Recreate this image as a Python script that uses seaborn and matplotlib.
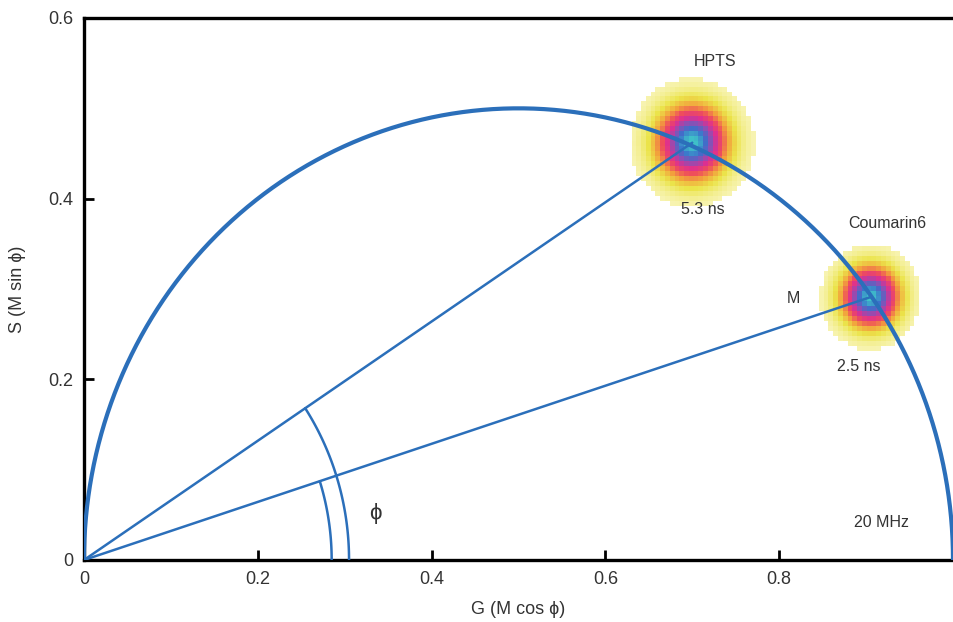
import numpy as np
import pandas as pd
import matplotlib
matplotlib.use("Agg")
import matplotlib.pyplot as plt
from matplotlib.colors import LinearSegmentedColormap
import seaborn as sns

# datos
nombres = ["HPTS", "Coumarin6"]
vidas = ["5.3 ns", "2.5 ns"]
centro_g = [0.700, 0.905]
centro_s = [0.462, 0.291]
dispersion = [0.027, 0.022]
frecuencia = "20 MHz"
radios_arco = [0.305, 0.285]   # arco exterior -> HPTS, interior -> Coumarin6
ticks_x = [0, 0.2, 0.4, 0.6, 0.8]
ticks_y = [0, 0.2, 0.4, 0.6]

azul = "#2b6fba"

sns.set_theme(style="white")
plt.rcParams["font.family"] = ["Liberation Sans", "DejaVu Sans"]

fig = plt.figure(figsize=(9.54, 6.22), dpi=100)
ax = fig.add_axes([84 / 954, 62 / 622, 869 / 954, 542 / 622])

# nubes de fasores (histograma 2D)
cmap = LinearSegmentedColormap.from_list(
    "fasor", ["#f7f3b0", "#ebe44a", "#f2a23c", "#ef4f5a", "#de2f90", "#8e4fb3", "#3b6fcb", "#3fc6c8"])
paso = 0.0055
for g0, s0, sd in zip(centro_g, centro_s, dispersion):
    bordes_g = np.arange(g0 - 3.2 * sd, g0 + 3.2 * sd, paso)
    bordes_s = np.arange(s0 - 3.2 * sd, s0 + 3.2 * sd, paso)
    gg, ss = np.meshgrid(bordes_g[:-1] + paso / 2, bordes_s[:-1] + paso / 2)
    dens = np.exp(-((gg - g0) ** 2 + (ss - s0) ** 2) / (2 * sd ** 2))
    dens = np.ma.masked_less(dens, 0.03)
    ax.pcolormesh(bordes_g, bordes_s, dens, cmap=cmap, vmin=0.03, vmax=1.0, zorder=1)

# semicirculo universal
theta = np.linspace(0, np.pi, 400)
semi = pd.DataFrame({"G": 0.5 + 0.5 * np.cos(theta), "S": 0.5 * np.sin(theta)})
sns.lineplot(data=semi, x="G", y="S", sort=False, color=azul, lw=3.0, ax=ax, zorder=3)

# vectores M
for g0, s0 in zip(centro_g, centro_s):
    ax.plot([0, g0], [0, s0], color=azul, lw=1.8, zorder=3)

# arcos del angulo phi
for r, g0, s0 in zip(radios_arco, centro_g, centro_s):
    ang = np.linspace(0, np.arctan2(s0, g0), 60)
    ax.plot(r * np.cos(ang), r * np.sin(ang), color=azul, lw=1.8, zorder=3)

txt = dict(color="#333333", fontsize=11.5, ha="center", va="center")
ax.text(0.726, 0.552, nombres[0], **txt)
ax.text(0.712, 0.388, vidas[0], **txt)
ax.text(0.924, 0.373, nombres[1], **txt)
ax.text(0.892, 0.214, vidas[1], **txt)
ax.text(0.816, 0.290, "M", **txt)
ax.text(0.335, 0.051, "ϕ", color="#333333", fontsize=16, ha="center", va="center")
ax.text(0.918, 0.042, frecuencia, **txt)

ax.set_xlim(0, 1.0)
ax.set_ylim(0, 0.6)
ax.set_xticks(ticks_x)
ax.set_xticklabels(["0", "0.2", "0.4", "0.6", "0.8"])
ax.set_yticks(ticks_y)
ax.set_yticklabels(["0", "0.2", "0.4", "0.6"])
ax.tick_params(direction="in", length=7, width=2, colors="black", labelcolor="#333333",
               labelsize=13, pad=8, bottom=True, left=True)
for lado in ["left", "bottom", "top"]:
    ax.spines[lado].set_color("black")
    ax.spines[lado].set_linewidth(2.4)
ax.spines["right"].set_visible(False)
ax.set_xlabel("G (M cos ϕ)", fontsize=13, color="#333333", labelpad=9)
ax.set_ylabel("S (M sin ϕ)", fontsize=13, color="#333333", labelpad=16)

fig.savefig("out.png", dpi=100)
